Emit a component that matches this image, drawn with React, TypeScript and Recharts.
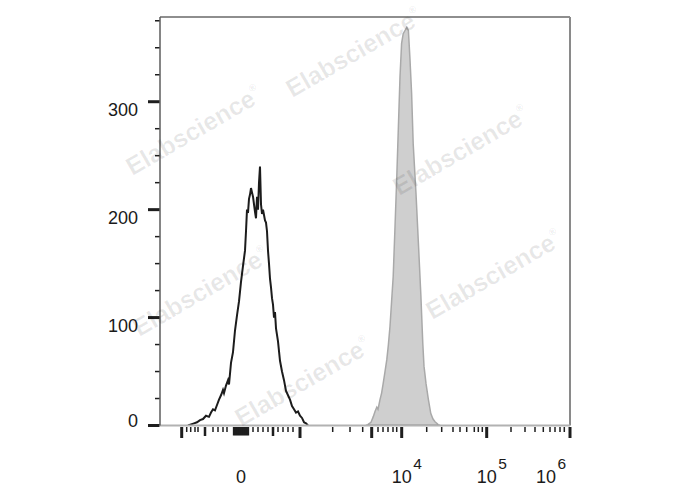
import React from "react"
import { ComposedChart, Line, Area, XAxis, YAxis, ReferenceLine } from "recharts"

// x is a display channel (0-1025) of the biexponential FL axis, y is the event count
const X_MAX = 1025
const Y_MAX = 378.5

// unstained control (black outline)
const controlX = [70, 77.5, 85, 92.5, 100, 107.5, 115, 122.5, 127.5, 132.5, 137.5, 142.5, 147.5, 152.5, 157.5, 160, 165, 170, 172.5, 177.5, 182.5, 187.5, 192.5, 197.5, 202.5, 207.5, 212.5, 215, 217.5, 220, 222.5, 225, 227.5, 230, 232.5, 235, 237.5, 240, 242.5, 245, 247.5, 250, 252.5, 255, 257.5, 260, 262.5, 265, 267.5, 270, 272.5, 275, 277.5, 280, 282.5, 285, 287.5, 290, 295, 300, 305, 310, 315, 320, 325, 330, 335, 340, 345, 350, 355, 360, 365, 370]
const controlCount = [0, 1, 2, 3, 5, 6, 9, 8, 12, 15, 14, 19, 24, 28, 33, 30, 37, 42, 38, 58, 68, 88, 102, 115, 133, 148, 162, 180, 200, 197, 210, 214, 220, 216, 212, 205, 198, 192, 212, 200, 225, 240, 205, 196, 200, 195, 190, 188, 180, 162, 150, 136, 128, 118, 112, 100, 105, 90, 78, 60, 50, 42, 32, 28, 24, 18, 15, 12, 13, 9, 7, 3, 2, 0]

// stained sample (gray filled)
const stainedX = [515, 520, 527.5, 533, 537.5, 542, 545, 550, 554, 558, 562.5, 567, 571, 575, 579, 583, 587.5, 592, 596, 600, 604, 608, 612.5, 617, 621, 625, 629, 633, 640, 646, 652, 657, 660, 665, 671, 677, 682.5, 687.5, 695, 700]
const stainedCount = [0, 1, 3, 8, 13, 17, 15, 24, 30, 39, 50, 61, 75, 92, 115, 138, 184, 231, 277, 323, 354, 363, 366, 369, 366, 339, 308, 261, 215, 169, 122, 76, 55, 39, 24, 11, 6, 3.5, 1, 0]

const Y_TICKS = [0, 25, 50, 75, 100, 125, 150, 175, 200, 225, 250, 275, 300, 325, 350, 375]
const Y_MAJOR = [0, 100, 200, 300]

const X_LONG_TICKS = [54.25, 350, 529.25, 604.25, 816.75, 1025]
const X_MID_TICKS = [112.5, 282.5]
const X_DENSE_TICKS = [185, 190, 195, 200, 205, 210, 215, 220]
const X_MINOR_TICKS = [66.75, 76.75, 87.5, 95, 132.5, 145, 157.5, 167.5, 232.5, 245, 257.5, 270, 295, 307.5, 320, 332.5, 431.75, 475, 506.75, 545, 557.5, 570, 582.5, 591.75, 666.75, 704.25, 732.5, 750, 766.75, 785.75, 795.75, 805.75, 877.5, 912.5, 937.5, 958.25, 975, 987.5, 1000, 1010.75]

const X_LABEL_AT = [202.5, 604.25, 816.75, 965]
const X_LABEL_BASE = ["0", "10", "10", "10"]
const X_LABEL_EXP = ["", "4", "5", "6"]

const X_TICKS = Array.from(
  new Set([...X_LONG_TICKS, ...X_MID_TICKS, ...X_DENSE_TICKS, ...X_MINOR_TICKS, ...X_LABEL_AT]),
).sort((a, b) => a - b)

const controlData = controlX.map((x, i) => ({ x, y: controlCount[i] }))
const stainedData = stainedX.map((x, i) => ({ x, y: stainedCount[i] }))
const stainedBase = [
  { x: stainedX[1], y: 0 },
  { x: stainedX[stainedX.length - 2], y: 0 },
]

const FONT = "Arial, 'Liberation Sans', Helvetica, sans-serif"

function XTick(props: any) {
  const { x, y, payload } = props
  const v = payload.value
  let len = 0
  let w = 0
  if (X_LONG_TICKS.includes(v)) {
    len = 11
    w = 3
  } else if (X_MID_TICKS.includes(v)) {
    len = 9
    w = 2.5
  } else if (X_DENSE_TICKS.includes(v)) {
    len = 8.5
    w = 2.3
  } else if (X_MINOR_TICKS.includes(v)) {
    len = 5
    w = 1.5
  }
  const li = X_LABEL_AT.indexOf(v)
  return (
    <g>
      {len > 0 && <line x1={x} x2={x} y1={y + 1.5} y2={y + 1.5 + len} stroke="#1e1e1e" strokeWidth={w} />}
      {li >= 0 && (
        <g fontFamily={FONT} fill="#1a1a1a">
          <text x={x} y={y + 57} textAnchor="middle" fontSize={18}>
            {X_LABEL_BASE[li]}
          </text>
          {X_LABEL_EXP[li] && (
            <text x={x + 11.5} y={y + 43} textAnchor="start" fontSize={15.5}>
              {X_LABEL_EXP[li]}
            </text>
          )}
        </g>
      )}
    </g>
  )
}

function YTick(props: any) {
  const { x, y, payload } = props
  const v = payload.value
  const major = Y_MAJOR.includes(v)
  return (
    <g>
      <line x1={x - (major ? 12 : 5)} x2={x - 0.5} y1={y} y2={y} stroke="#1e1e1e" strokeWidth={major ? 3 : 1.5} />
      {major && (
        <text x={x - 22} y={y + (v === 0 ? 1.5 : 14.4)} textAnchor="end" fontSize={18} fontFamily={FONT} fill="#1a1a1a">
          {v}
        </text>
      )}
    </g>
  )
}

const WATERMARKS = [
  [198, 138],
  [358, 60],
  [465, 158],
  [498, 282],
  [205, 299],
  [307, 389],
]

export default function App() {
  return (
    <div style={{ position: "absolute", left: 0, top: 0, width: 688, height: 490, background: "#fff" }}>
      <ComposedChart
        width={688}
        height={490}
        margin={{ top: 17, right: 118, left: 100, bottom: 24.5 }}
      >
        <XAxis
          type="number"
          dataKey="x"
          domain={[0, X_MAX]}
          ticks={X_TICKS}
          interval={0}
          tickSize={0}
          tickMargin={0}
          tickLine={false}
          height={40}
          axisLine={{ stroke: "#b2b2b2", strokeWidth: 2 }}
          tick={<XTick />}
          allowDataOverflow
        />
        <YAxis
          type="number"
          dataKey="y"
          domain={[0, Y_MAX]}
          ticks={Y_TICKS}
          interval={0}
          tickSize={0}
          tickMargin={0}
          tickLine={false}
          width={60}
          axisLine={{ stroke: "#5c5c5c", strokeWidth: 1.5 }}
          tick={<YTick />}
          allowDataOverflow
        />
        <ReferenceLine y={Y_MAX} stroke="#8e8e8e" strokeWidth={2} ifOverflow="visible" />
        <ReferenceLine x={X_MAX} stroke="#8a8a8a" strokeWidth={2} ifOverflow="visible" />
        <Area
          data={stainedData}
          dataKey="y"
          type="linear"
          fill="#cfcfcf"
          fillOpacity={1}
          stroke="#a9a9a9"
          strokeWidth={1.5}
          isAnimationActive={false}
        />
        <Line
          data={stainedBase}
          dataKey="y"
          type="linear"
          stroke="#4a4a4a"
          strokeWidth={1.5}
          dot={false}
          isAnimationActive={false}
        />
        <Line
          data={controlData}
          dataKey="y"
          type="linear"
          stroke="#1c1c1c"
          strokeWidth={2}
          dot={false}
          isAnimationActive={false}
        />
      </ComposedChart>
      <svg
        width={688}
        height={490}
        style={{ position: "absolute", left: 0, top: 0, pointerEvents: "none" }}
      >
        {WATERMARKS.map(([cx, cy], i) => (
          <text
            key={i}
            transform={`translate(${cx},${cy}) rotate(-30)`}
            textAnchor="middle"
            fontFamily={FONT}
            fontWeight="bold"
            fontSize={25}
            fill="#000"
            fillOpacity={0.09}
          >
            Elabscience
            <tspan fontSize={10} dy={-13}>
              ®
            </tspan>
          </text>
        ))}
      </svg>
    </div>
  )
}
